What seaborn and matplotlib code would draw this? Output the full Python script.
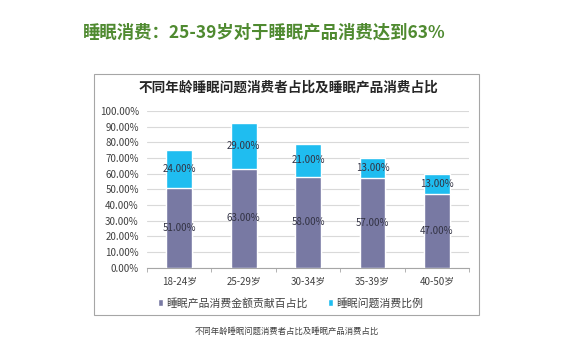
import numpy as np
import pandas as pd
import seaborn as sns
import matplotlib.pyplot as plt
from matplotlib.patches import Rectangle
from matplotlib.ticker import FuncFormatter

# 数据
ages = ['18-24岁', '25-29岁', '30-34岁', '35-39岁', '40-50岁']
product_share = [51, 63, 58, 57, 47]   # 睡眠产品消费金额贡献百占比
problem_share = [24, 29, 21, 13, 13]   # 睡眠问题消费比例

df = pd.DataFrame({'age': ages, 'product': product_share, 'problem': problem_share})
df['total'] = df['product'] + df['problem']

sns.set_style('white')
plt.rcParams['font.family'] = ['Noto Sans CJK SC', 'DejaVu Sans']

purple = '#7879A3'
cyan = '#1FBDF0'

fig = plt.figure(figsize=(5.7, 3.6), dpi=100)
ax = fig.add_axes([0.258, 0.256, 0.565, 0.436])

# 堆叠柱状图：先画总高度，再盖上底部
sns.barplot(data=df, x='age', y='total', color=cyan, width=0.4, saturation=1, ax=ax,
            label='睡眠问题消费比例', zorder=2)
sns.barplot(data=df, x='age', y='product', color=purple, width=0.4, saturation=1, ax=ax,
            label='睡眠产品消费金额贡献百占比', zorder=3)
if ax.get_legend() is not None:
    ax.get_legend().remove()

# 数据标签
for i, (p, q) in enumerate(zip(product_share, problem_share)):
    ax.text(i, p / 2, f'{p:.2f}%', ha='center', va='center', fontsize=7, color='#333344', zorder=4)
    ax.text(i, p + q / 2, f'{q:.2f}%', ha='center', va='center', fontsize=7, color='#333344', zorder=4)

ax.set_ylim(0, 100)
ax.set_yticks(np.arange(0, 101, 10))
ax.yaxis.set_major_formatter(FuncFormatter(lambda v, _: f'{v:.2f}%'))
ax.set_xlim(-0.5, 4.5)
ax.grid(axis='y', color='#D9D9D9', linewidth=0.8, zorder=0)
ax.set_axisbelow(True)
for s in ['left', 'right', 'top']:
    ax.spines[s].set_visible(False)
ax.spines['bottom'].set_color('#A6A6A6')
ax.set_xlabel('')
ax.set_ylabel('')
ax.tick_params(axis='y', labelsize=7, colors='#404040', length=0, pad=6)
ax.tick_params(axis='x', labelsize=7, colors='#404040', length=0, pad=6)
# 类别分隔的小刻度
ax.set_xticks(np.arange(-0.5, 5, 1), minor=True)
ax.tick_params(axis='x', which='minor', length=3, color='#A6A6A6', bottom=True)

# 图例（顺序：紫色在前）
handles, labels = ax.get_legend_handles_labels()
order = [labels.index('睡眠产品消费金额贡献百占比'), labels.index('睡眠问题消费比例')]
fig.legend([handles[k] for k in order], [labels[k] for k in order], loc='center left',
           bbox_to_anchor=(158 / 570, 1 - 303 / 360), ncol=2, frameon=False, fontsize=7.8,
           handlelength=0.5, handleheight=0.5, handletextpad=0.3, columnspacing=1.8,
           labelcolor='#404040', borderaxespad=0, borderpad=0)

# 图表外框
fig.patches.append(Rectangle((94 / 570, 1 - 315 / 360), (479 - 94) / 570, (315 - 74) / 360,
                             transform=fig.transFigure, fill=False, edgecolor='#A6A6A6',
                             linewidth=0.8))

# 标题
fig.text(264 / 570, 1 - 33 / 360, '睡眠消费：25-39岁对于睡眠产品消费达到63%', ha='center', va='center',
         fontsize=12.5, fontweight='bold', color='#4F8A30')
fig.text(288 / 570, 1 - 88 / 360, '不同年龄睡眠问题消费者占比及睡眠产品消费占比', ha='center', va='center',
         fontsize=9.8, fontweight='bold', color='#262626')
fig.text(287 / 570, 1 - 331 / 360, '不同年龄睡眠问题消费者占比及睡眠产品消费占比', ha='center', va='center',
         fontsize=6, color='#404040')

fig.savefig('out.png', dpi=100, facecolor='white')
